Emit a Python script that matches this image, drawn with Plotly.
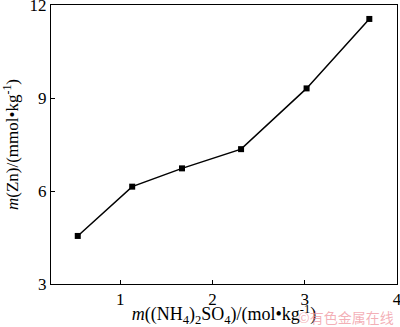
import plotly.graph_objects as go

x_vals = [0.54, 1.13, 1.67, 2.31, 3.02, 3.70]
y_vals = [4.55, 6.14, 6.73, 7.35, 9.31, 11.55]
x_ticks = [1, 2, 3, 4]
y_ticks = [3, 6, 9, 12]

font = "Liberation Serif, Times New Roman, serif"

fig = go.Figure()
fig.add_trace(go.Scatter(
    x=x_vals, y=y_vals, mode="lines+markers",
    line=dict(color="black", width=1.5),
    marker=dict(symbol="square", size=6, color="black"),
    showlegend=False,
))

axis_common = dict(
    showgrid=False, zeroline=False, showline=True, linecolor="black", linewidth=1,
    mirror=True, ticks="inside", ticklen=4, tickcolor="black",
    ticklabeloverflow="allow", automargin=False,
    tickfont=dict(family=font, size=17, color="black"),
)
fig.update_xaxes(range=[0.25, 4], tickvals=x_ticks, **axis_common,
                 title=dict(text="<i>m</i>((NH<sub>4</sub>)<sub>2</sub>SO<sub>4</sub>)/(mol•kg<sup>-1</sup>)",
                            font=dict(family=font, size=18, color="black")))
fig.update_yaxes(range=[3, 12], tickvals=y_ticks, **axis_common,
                 title=dict(text="<i>m</i>(Zn)/(mmol•kg<sup>-1</sup>)",
                            font=dict(family=font, size=17, color="black")))

fig.add_annotation(text="©有色金属在线", xref="paper", yref="paper", x=0.997, y=-0.12,
                   xanchor="right", yanchor="middle", showarrow=False,
                   font=dict(family="Noto Sans CJK SC", size=14, color="rgba(240,150,160,0.75)"))

fig.update_layout(
    width=400, height=327,
    margin=dict(l=51, r=3, t=5, b=43),
    paper_bgcolor="white", plot_bgcolor="white",
)
fig.write_html("out.html", config={"displayModeBar": False},
               post_script="document.body.style.margin='0';")
